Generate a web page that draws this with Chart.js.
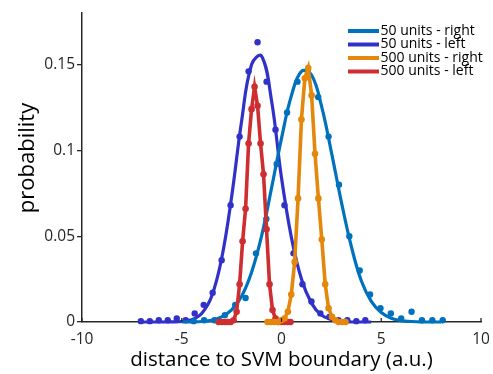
<!DOCTYPE html>
<html>
<head>
<meta charset="utf-8">
<script src="https://cdn.jsdelivr.net/npm/chart.js@4"></script>
<style>
  html, body { margin: 0; padding: 0; background: #fff; }
</style>
</head>
<body>
<canvas id="myChart" width="493" height="374"></canvas>
<script>
// tick labels
const xTicks = [-10, -5, 0, 5, 10];
const yTicks = [0, 0.05, 0.1, 0.15];

const seriesNames = ["50 units - right", "50 units - left", "500 units - right", "500 units - left"];
const seriesColors = ["#0072BD", "#3131C9", "#E5870A", "#CF2E30"];

// 50 units - right: fitted curve + histogram points
const fitX50R = [-5, -4.5, -4, -3.5, -3, -2.5, -2, -1.5, -1, -0.5, 0, 0.5, 1, 1.5, 2, 2.5, 3, 3.5, 4, 4.5, 5, 5.5, 6, 6.5, 7, 7.5, 8];
const fitY50R = [0, 0.0001, 0.0003, 0.001, 0.003, 0.007, 0.015, 0.029, 0.050, 0.078, 0.107, 0.132, 0.146, 0.144, 0.126, 0.099, 0.070, 0.044, 0.024, 0.012, 0.0055, 0.0022, 0.0008, 0.0003, 0, 0, 0];
const ptsX50R = [-4.4, -3.88, -3.36, -2.84, -2.32, -1.8, -1.28, -0.76, -0.24, 0.28, 0.8, 1.32, 1.84, 2.36, 2.88, 3.4, 3.92, 4.44, 4.96, 5.48, 6.0, 6.52, 7.04, 7.56, 8.08];
const ptsY50R = [0.0005, 0.001, 0.001, 0.004, 0.010, 0.014, 0.040, 0.060, 0.092, 0.122, 0.140, 0.147, 0.131, 0.108, 0.080, 0.050, 0.030, 0.016, 0.008, 0.005, 0.002, 0.006, 0.001, 0.001, 0.001];

// 50 units - left
const fitX50L = [-7, -6.5, -6, -5.5, -5, -4.5, -4, -3.5, -3, -2.5, -2, -1.5, -1, -0.5, 0, 0.5, 1, 1.5, 2, 2.5, 3, 3.5, 4, 4.5];
const fitY50L = [0, 0, 0, 0.0001, 0.0003, 0.0013, 0.005, 0.015, 0.037, 0.073, 0.117, 0.150, 0.155, 0.129, 0.084, 0.049, 0.025, 0.011, 0.004, 0.0015, 0.0005, 0, 0, 0];
const ptsX50L = [-7.05, -6.6, -6.15, -5.7, -5.25, -4.8, -4.35, -3.9, -3.45, -3.0, -2.55, -2.1, -1.65, -1.2, -0.75, -0.3, 0.15, 0.6, 1.05, 1.5, 1.95, 2.4, 2.85, 3.3, 3.75, 4.2];
const ptsY50L = [0.0005, 0.0005, 0.001, 0.001, 0.002, 0.001, 0.005, 0.010, 0.017, 0.036, 0.068, 0.108, 0.146, 0.163, 0.140, 0.112, 0.068, 0.040, 0.022, 0.012, 0.005, 0.003, 0.001, 0.001, 0.0005, 0.001];

// 500 units - right
const x500R = [-0.7, -0.53, -0.36, -0.19, -0.02, 0.15, 0.32, 0.49, 0.66, 0.83, 1.0, 1.17, 1.34, 1.51, 1.68, 1.85, 2.02, 2.19, 2.36, 2.53, 2.7, 2.87, 3.04, 3.21];
const y500R = [0, 0, 0, 0, 0.001, 0.002, 0.006, 0.016, 0.035, 0.072, 0.118, 0.142, 0.148, 0.132, 0.098, 0.072, 0.048, 0.022, 0.008, 0.003, 0.001, 0, 0, 0];

// 500 units - left
const x500L = [-3.15, -3.0, -2.85, -2.7, -2.55, -2.4, -2.25, -2.1, -1.95, -1.8, -1.65, -1.5, -1.35, -1.2, -1.05, -0.9, -0.75, -0.6, -0.45, -0.3, -0.15, 0, 0.15, 0.3, 0.45];
const y500L = [0, 0, 0, 0, 0, 0.001, 0.006, 0.022, 0.047, 0.066, 0.104, 0.124, 0.137, 0.126, 0.104, 0.086, 0.054, 0.022, 0.007, 0.002, 0, 0, 0, 0, 0];

const pairs = (xs, ys) => xs.map((x, i) => ({ x: x, y: ys[i] }));
const FONT = "'Open Sans', sans-serif";
const INK = "#262626";

const curve = (xs, ys, color, order) => ({
  data: pairs(xs, ys), showLine: true, borderColor: color, borderWidth: 3.2,
  pointRadius: 0, tension: 0.4, clip: false, order: order
});
const dots = (xs, ys, color, order) => ({
  data: pairs(xs, ys), showLine: false, backgroundColor: color, borderWidth: 0,
  pointRadius: 3.2, clip: false, order: order
});
const marked = (xs, ys, color, order) => ({
  data: pairs(xs, ys), showLine: true, borderColor: color, backgroundColor: color,
  borderWidth: 3.6, pointRadius: 3.3, pointBorderWidth: 0, tension: 0, clip: false, order: order
});

// inward x ticks, y title and the legend
const extras = {
  id: "extras",
  afterDraw(chart) {
    const ctx = chart.ctx;
    const xs = chart.scales.x, ys = chart.scales.y;
    const y0 = ys.getPixelForValue(0);
    ctx.save();
    ctx.strokeStyle = INK;
    ctx.lineWidth = 1.3;
    xTicks.forEach(v => {
      const px = xs.getPixelForValue(v);
      ctx.beginPath(); ctx.moveTo(px, y0); ctx.lineTo(px, y0 - 4); ctx.stroke();
    });

    ctx.save();
    ctx.translate(27.5, 158);
    ctx.rotate(-Math.PI / 2);
    ctx.font = "22px " + FONT;
    ctx.fillStyle = "#000";
    ctx.textAlign = "center";
    ctx.textBaseline = "middle";
    ctx.fillText("probability", 0, 0);
    ctx.restore();

    ctx.font = "14px " + FONT;
    ctx.textBaseline = "middle";
    seriesNames.forEach((n, i) => {
      const y = 31 + i * 13.5;
      ctx.strokeStyle = seriesColors[i];
      ctx.lineWidth = 4;
      ctx.beginPath(); ctx.moveTo(348, y); ctx.lineTo(379, y); ctx.stroke();
      ctx.fillStyle = "#000";
      ctx.fillText(n, 380.5, y);
    });
    ctx.restore();
  }
};

new Chart(document.getElementById("myChart"), {
  type: "scatter",
  data: {
    datasets: [
      marked(x500R, y500R, seriesColors[2], 1),
      marked(x500L, y500L, seriesColors[3], 2),
      curve(fitX50R, fitY50R, seriesColors[0], 3),
      dots(ptsX50R, ptsY50R, seriesColors[0], 4),
      curve(fitX50L, fitY50L, seriesColors[1], 5),
      dots(ptsX50L, ptsY50L, seriesColors[1], 6),
    ],
  },
  options: {
    responsive: false,
    animation: false,
    layout: { padding: { top: 13, right: 12, bottom: 0, left: 0 } },
    plugins: { legend: { display: false }, tooltip: { enabled: false } },
    scales: {
      x: {
        type: "linear", min: -10, max: 10,
        afterBuildTicks: s => { s.ticks = xTicks.map(v => ({ value: v })); },
        afterFit: s => { s.height = 52; },
        ticks: { color: INK, font: { family: FONT, size: 15.5 }, padding: 0, callback: v => String(v), maxRotation: 0 },
        grid: { display: false },
        border: { display: true, color: INK, width: 1.5 },
        title: { display: true, text: "distance to SVM boundary (a.u.)", color: "#000", font: { family: FONT, size: 20.5 }, padding: { top: 0, bottom: 2 } },
      },
      y: {
        type: "linear", min: 0, max: 0.18,
        afterBuildTicks: s => { s.ticks = yTicks.map(v => ({ value: v })); },
        afterFit: s => { s.width = 82; },
        ticks: { color: INK, font: { family: FONT, size: 15.5 }, padding: 2, callback: v => String(v) },
        grid: { display: true, drawOnChartArea: false, drawTicks: true, tickLength: 5, color: INK, lineWidth: 1.3 },
        border: { display: true, color: INK, width: 1.5 },
        title: { display: false },
      },
    },
  },
  plugins: [extras],
});
</script>
</body>
</html>
